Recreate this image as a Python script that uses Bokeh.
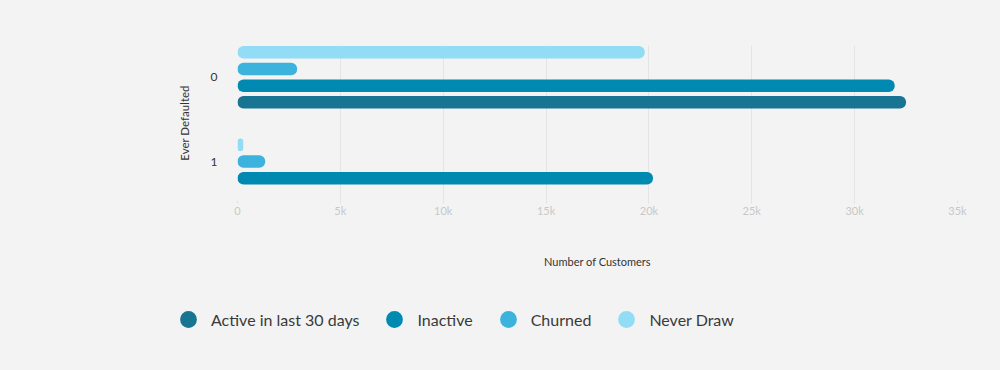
from bokeh.plotting import figure
from bokeh.layouts import column
from bokeh.models import ColumnDataSource, Range1d, FixedTicker, Legend, LegendItem, CustomJSTickFormatter
from bokeh.embed import file_html
from bokeh.resources import INLINE

categories = ["0", "1"]
series_names = ["Active in last 30 days", "Inactive", "Churned", "Never Draw"]
active = [32500, None]
inactive = [31950, 20200]
churned = [2900, 1350]
never_draw = [19800, 280]
colors = ["#177492", "#0089b1", "#3bb3dc", "#92dcf5"]
x_ticks = [0, 5000, 10000, 15000, 20000, 25000, 30000, 35000]

BG = "#f3f3f3"
FONT = "Lato"

values = [active, inactive, churned, never_draw]

p = figure(width=1000, height=290, output_backend="svg", toolbar_location=None,
           x_range=Range1d(0, 35000), y_range=Range1d(1.463, -0.378),
           min_border_left=237, min_border_right=43, min_border_top=45, min_border_bottom=90)
p.frame_align = False
p.background_fill_color = BG
p.border_fill_color = BG
p.outline_line_color = None

step = 0.198
bar_h = 0.148
# draw order top to bottom: Never Draw, Churned, Inactive, Active
order = [3, 2, 1, 0]
for ci, cat in enumerate(categories):
    present = [s for s in order if values[s][ci] is not None]
    n = len(present)
    for k, s in enumerate(present):
        y = ci + (k - (n - 1) / 2) * step
        src = ColumnDataSource(dict(y=[y], right=[values[s][ci]]))
        p.hbar(y="y", left=0, right="right", height=bar_h, source=src,
               fill_color=colors[s], line_color=None, border_radius=6)

# x axis
p.xaxis.ticker = FixedTicker(ticks=x_ticks)
p.xaxis.formatter = CustomJSTickFormatter(code="return tick == 0 ? '0' : (tick/1000) + 'k';")
p.xaxis.axis_line_color = None
p.xaxis.major_tick_out = 3
p.xaxis.major_tick_in = 0
p.xaxis.major_tick_line_color = "#e2e2e2"
p.xaxis.minor_tick_line_color = None
p.xaxis.major_label_text_color = "#c8c8c8"
p.xaxis.major_label_text_font = FONT
p.xaxis.major_label_text_font_size = "11px"
p.xaxis.major_label_standoff = 0
p.xaxis.axis_label = "Number of Customers"
p.xaxis.axis_label_text_font = FONT
p.xaxis.axis_label_text_font_style = "normal"
p.xaxis.axis_label_text_font_size = "11px"
p.xaxis.axis_label_text_color = "#333333"
p.xaxis.axis_label_standoff = 35

# y axis
p.yaxis.ticker = FixedTicker(ticks=[0, 1])
p.yaxis.major_label_overrides = {0: categories[0], 1: categories[1]}
p.yaxis.axis_line_color = None
p.yaxis.major_tick_line_color = None
p.yaxis.major_tick_out = 0
p.yaxis.major_tick_in = 0
p.yaxis.minor_tick_line_color = None
p.yaxis.major_label_standoff = 20
p.yaxis.major_label_text_font = FONT
p.yaxis.major_label_text_font_size = "12px"
p.yaxis.major_label_text_color = "#333333"
p.yaxis.axis_label = "Ever Defaulted"
p.yaxis.axis_label_text_font = FONT
p.yaxis.axis_label_text_font_style = "normal"
p.yaxis.axis_label_text_font_size = "11.5px"
p.yaxis.axis_label_text_color = "#333333"
p.yaxis.axis_label_standoff = 17

p.xgrid.grid_line_color = "#e4e4e4"
p.ygrid.grid_line_color = None

# legend figure
lg = figure(width=1000, height=80, output_backend="svg", toolbar_location=None,
            x_range=Range1d(0, 1), y_range=Range1d(0, 1),
            min_border=0, min_border_left=0, min_border_right=0, min_border_top=0, min_border_bottom=0)
lg.frame_align = False
lg.axis.visible = False
lg.grid.visible = False
lg.background_fill_color = BG
lg.border_fill_color = BG
lg.outline_line_color = None

nan = float("nan")
items = []
for s in range(4):
    r = lg.scatter(x=[nan], y=[nan], marker="circle", fill_color=colors[s], line_color=None)
    items.append(LegendItem(label=series_names[s], renderers=[r]))

legend = Legend(items=items, orientation="horizontal", location=(167, 30),
                glyph_width=42, glyph_height=42, label_standoff=2, spacing=14,
                padding=0, margin=0, border_line_color=None, background_fill_alpha=0,
                label_text_font=FONT, label_text_font_size="16px", label_text_color="#3a3a3a")
lg.add_layout(legend, "center")

layout = column(p, lg, spacing=0)
html = file_html(layout, INLINE)
html = html.replace("<body>", "<body style=\"margin:0;background:#f3f3f3;\">")
open("out.html", "w").write(html)
